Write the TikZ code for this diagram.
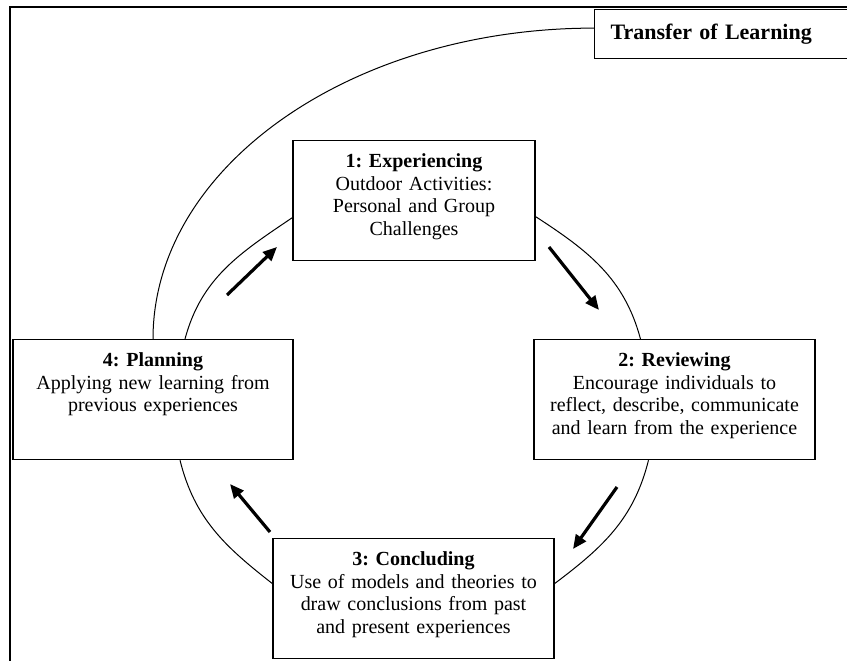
\documentclass[tikz,border=0pt]{standalone}
\usepackage{fontspec}
\setmainfont{Liberation Serif}
\frenchspacing
\usetikzlibrary{arrows.meta}
\tikzset{
  stage/.style={draw,line width=0.6pt,anchor=north,align=center,text width=#1,
    inner xsep=3pt,inner ysep=6.5pt,text height=7pt,text depth=40pt,
    font=\fontsize{10}{11.25}\selectfont},
  cycleline/.style={line width=0.5pt},
  cyclearrow/.style={line width=1.6pt,-{Triangle[length=7pt,width=6pt]}}
}
\begin{document}
\begin{tikzpicture}[x=0.5pt,y=-0.5pt]
\useasboundingbox (0,0) rectangle (847,660);
\draw[line width=1.1pt] (10,670) -- (10,7) -- (860,7);
\node[draw,line width=0.6pt,anchor=north west,minimum height=24.5pt,text width=140pt,
  align=left,inner xsep=8pt,font=\fontsize{11}{13}\selectfont\bfseries](t) at (594,9){Transfer of Learning};
\node[stage=115pt](1) at (414,140){\textbf{1: Experiencing}\\Outdoor Activities:\\Personal and Group\\Challenges};
\node[stage=134.5pt](2) at (674.5,339){\textbf{2: Reviewing}\\Encourage individuals to\\reflect, describe, communicate\\and learn from the experience};
\node[stage=134.5pt](3) at (413.5,538){\textbf{3: Concluding}\\Use of models and theories to\\draw conclusions from past\\and present experiences};
\node[stage=134pt](4) at (153,339){\textbf{4: Planning}\\Applying new learning from\\previous experiences};
\draw[cycleline] ([yshift=-8pt]1.east) to[out=-33,in=105] ([xshift=-17pt]2.north);
\draw[cycleline] ([xshift=-13pt]2.south) to[out=-104,in=37] ([yshift=7.5pt]3.east);
\draw[cycleline] ([yshift=7.5pt]3.west) to[out=142,in=-76] ([xshift=13.5pt]4.south);
\draw[cycleline] ([xshift=16pt]4.north) to[out=75,in=-146] ([yshift=-8.5pt]1.west);
\draw[cycleline] ([yshift=3pt]t.west) .. controls +(-243,0) and +(0,-172) .. (4.north);
\draw[cyclearrow] (549,247) -- (599,310);
\draw[cyclearrow] (617,487) -- (573,549);
\draw[cyclearrow] (270,532) -- (230,484);
\draw[cyclearrow] (227,295) -- (277,247);
\end{tikzpicture}
\end{document}
